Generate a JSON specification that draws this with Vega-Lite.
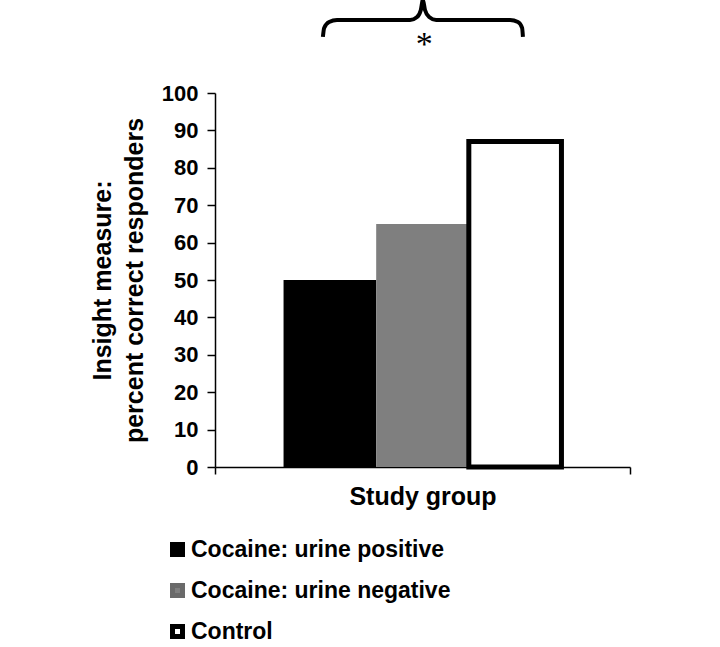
{
  "$schema": "https://vega.github.io/schema/vega-lite/v6.json",
  "autosize": "none",
  "padding": {"left": 215, "top": 93, "right": 90, "bottom": 180},
  "width": 415,
  "height": 374,
  "background": "white",
  "config": {
    "view": {"stroke": null},
    "font": "Liberation Sans",
    "axis": {
      "domainColor": "black", "tickColor": "black", "labelColor": "black", "titleColor": "black",
      "labelFont": "Liberation Sans", "titleFont": "Liberation Sans",
      "labelFontWeight": "bold", "titleFontWeight": "bold", "grid": false,
      "domainWidth": 1.5, "tickWidth": 1.5
    },
    "axisY": {"values": [0,10,20,30,40,50,60,70,80,90,100], "labelOverlap": false, "tickSize": 8, "labelFontSize": 22, "labelPadding": 9,
      "titleFontSize": 25, "titleLineHeight": 32, "titlePadding": 14}
  },
  "layer": [
    {
      "data": {"values": [
        {"study": "Study group", "group": "Cocaine: urine positive", "value": 50},
        {"study": "Study group", "group": "Cocaine: urine negative", "value": 65},
        {"study": "Study group", "group": "Control", "value": 87}
      ]},
      "mark": {"type": "bar", "clip": false},
      "encoding": {
        "x": {"field": "study", "type": "nominal",
          "scale": {"paddingInner": 0, "paddingOuter": 0},
          "axis": {"labels": false, "title": "Study group", "tickBand": "extent", "tickSize": 7,
            "titleFontSize": 25, "titlePadding": 10}},
        "xOffset": {"field": "group", "type": "nominal",
          "sort": ["Cocaine: urine positive", "Cocaine: urine negative", "Control"],
          "scale": {"paddingInner": 0, "paddingOuter": 0.74}},
        "y": {"field": "value", "type": "quantitative",
          "scale": {"domain": [0, 100], "nice": false},
          "axis": {"values": [0,10,20,30,40,50,60,70,80,90,100], "labelOverlap": false, "tickCount": 11,
            "title": ["Insight measure:", "percent correct responders"]}},
        "fill": {"field": "group", "type": "nominal",
          "sort": ["Cocaine: urine positive", "Cocaine: urine negative", "Control"],
          "scale": {"domain": ["Cocaine: urine positive", "Cocaine: urine negative", "Control"], "range": ["#000000", "#7f7f7f", "#ffffff"]},
          "legend": {"title": null, "orient": "none", "legendX": -49, "legendY": 445, "direction": "vertical",
            "symbolType": "square", "symbolSize": 100, "symbolStrokeWidth": 5, "labelFontSize": 23, "labelFontWeight": "bold", "labelColor": "black",
            "labelFont": "Liberation Sans", "labelLimit": 0, "rowPadding": 10, "labelOffset": 2, "padding": 0, "symbolOpacity": 1}},
        "stroke": {"field": "group", "type": "nominal",
          "sort": ["Cocaine: urine positive", "Cocaine: urine negative", "Control"],
          "scale": {"domain": ["Cocaine: urine positive", "Cocaine: urine negative", "Control"], "range": ["#000000", "#6a6a6a", "#000000"]},
          "legend": {"title": null, "orient": "none", "legendX": -49, "legendY": 445, "direction": "vertical",
            "symbolType": "square", "symbolSize": 100, "symbolStrokeWidth": 5, "labelFontSize": 23, "labelFontWeight": "bold", "labelColor": "black",
            "labelFont": "Liberation Sans", "labelLimit": 0, "rowPadding": 10, "labelOffset": 2, "padding": 0, "symbolOpacity": 1}},
        "strokeWidth": {"condition": {"test": "datum.group === 'Control'", "value": 5}, "value": 0}
      }
    },
    {
      "data": {"values": [
        {"bx": 26.0, "by": 115.0},
        {"bx": 26.3, "by": 117.4},
        {"bx": 27.5, "by": 119.0},
        {"bx": 29.4, "by": 119.5},
        {"bx": 47.0, "by": 119.5},
        {"bx": 48.7, "by": 120.3},
        {"bx": 49.6, "by": 122.2},
        {"bx": 50.1, "by": 124.9},
        {"bx": 50.6, "by": 122.2},
        {"bx": 51.6, "by": 120.3},
        {"bx": 53.3, "by": 119.5},
        {"bx": 71.1, "by": 119.5},
        {"bx": 73.0, "by": 119.0},
        {"bx": 74.0, "by": 117.4},
        {"bx": 74.2, "by": 115.0}
      ]},
      "mark": {"type": "line", "interpolate": "monotone", "color": "black", "strokeWidth": 4, "clip": false},
      "encoding": {
        "x": {"field": "bx", "type": "quantitative", "scale": {"domain": [0, 100], "nice": false, "zero": false}, "axis": null},
        "y": {"field": "by", "type": "quantitative",
          "axis": {"values": [0,10,20,30,40,50,60,70,80,90,100], "labelOverlap": false, "tickCount": 11,
            "title": ["Insight measure:", "percent correct responders"]}}
      }
    },
    {
      "data": {"values": [{"bx": 50.4, "by": 114.2, "label": "*"}]},
      "mark": {"type": "text", "font": "Liberation Serif", "fontSize": 34, "color": "black", "baseline": "middle", "align": "center", "clip": false, "dy": 5},
      "encoding": {
        "x": {"field": "bx", "type": "quantitative", "scale": {"domain": [0, 100], "nice": false, "zero": false}, "axis": null},
        "y": {"field": "by", "type": "quantitative",
          "axis": {"values": [0,10,20,30,40,50,60,70,80,90,100], "labelOverlap": false, "tickCount": 11,
            "title": ["Insight measure:", "percent correct responders"]}},
        "text": {"field": "label"}
      }
    }
  ],
  "resolve": {"scale": {"x": "independent"}}
}
